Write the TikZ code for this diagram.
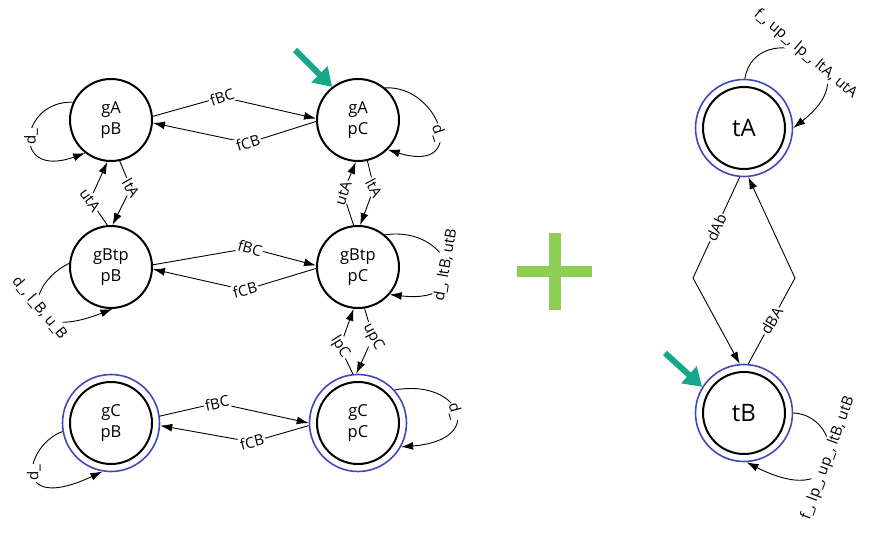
\documentclass[tikz,border=0pt]{standalone}
\usepackage{fontspec}
\setmainfont{Open Sans}
\usepackage{tikz}
\usetikzlibrary{arrows.meta}
\definecolor{ringBlue}{HTML}{4048B8}
\definecolor{initTeal}{HTML}{17A88A}
\definecolor{plusGreen}{HTML}{8DCF55}
\tikzset{>={Latex[length=12pt,width=8pt]}, trans/.style={->,line width=0.9pt},
	elbl/.style={fill=white,inner sep=1.2pt,font=\fontsize{15}{17}\selectfont}}
\tikzstyle{gameState}=[circle,draw=black,line width=2pt,inner sep=0pt,minimum size=82pt,align=center,font=\fontsize{16.5}{21}\selectfont]
\tikzstyle{finalState}=[circle,draw=ringBlue,line width=1.6pt,inner sep=0pt,minimum size=97pt,align=center,font=\fontsize{16.5}{21}\selectfont,
	label={[circle,draw=black,line width=2pt,minimum size=82pt,inner sep=0pt]center:}]
\tikzstyle{initArrow}=[draw=initTeal,line width=6pt,-{Triangle[length=18pt,width=22pt]},initTeal]

\begin{document}
\begin{tikzpicture}[x=1pt,y=-1pt]
	\useasboundingbox (0,0) rectangle (871,537);
	\node at (111,120) [gameState] (gApB) {gA\\pB};
	\node at (358,120) [gameState] (gApC) {gA\\pC};
	\node at (111,267) [gameState] (gBtpB) {gBtp\\pB};
	\node at (358,267) [gameState] (gBtpC) {gBtp\\pC};
	\node at (111,423) [finalState] (gCpB) {gC\\pB};
	\node at (358,423) [finalState] (gCpC) {gC\\pC};
	\node at (744,128) [finalState,font=\fontsize{24}{28}\selectfont] (tA) {tA};
	\node at (744,413) [finalState,font=\fontsize{24}{28}\selectfont] (tB) {tB};
	\coordinate (startA) at (295,50);
	\coordinate (startB) at (665,353);
	\draw[initArrow] (startA) -- (gApC.128);
	\draw[initArrow] (startB) -- (tB.148);
	% first row
	\draw[trans] (gApB.5) -- (222,97) node[elbl,rotate=18]{fBC} -- (gApC.178);
	\draw[trans] (gApC.182) -- (248,143) node[elbl,rotate=17]{fCB} -- (gApB.-4);
	\draw[trans] (gApB.155) .. controls (20,100) and (10,180) .. node[elbl,rotate=90]{d\_} (gApB.232);
	\draw[trans] (gApC.50) .. controls (440,85) and (470,175) .. node[elbl,rotate=-72,pos=0.55]{d\_} (gApC.-45);
	\draw[trans] (gApB.-78) -- (131,188) node[elbl,rotate=-60]{ltA} -- (gBtpB.88);
	\draw[trans] (gBtpB.95) -- (90,200) node[elbl,rotate=-55]{utA} -- (gApB.-95);
	\draw[trans] (gBtpC.96) -- (343,193) node[elbl,rotate=72]{utA} -- (gApC.-93);
	\draw[trans] (gApC.-77) -- (374,188) node[elbl,rotate=-62]{ltA} -- (gBtpC.87);
	% second row
	\draw[trans] (gBtpB.3) -- (250,248) node[elbl,rotate=-15]{fBC} -- (gBtpC.178);
	\draw[trans] (gBtpC.182) -- (245,290) node[elbl,rotate=15]{fCB} -- (gBtpB.-3);
	\draw[trans] (gBtpB.175) .. controls (25,285) and (20,345) .. node[elbl,rotate=-50]{d\_, l\_B, u\_B} (gBtpB.-88);
	\draw[trans] (gBtpC.50) .. controls (450,225) and (480,305) .. node[elbl,rotate=80]{d\_, ltB, utB} (gBtpC.-41);
	\draw[trans] (gBtpC.-81) -- (373,337) node[elbl,rotate=-62]{upC} -- (gCpC.92);
	\draw[trans] (gCpC.96) -- (340,347) node[elbl,rotate=-58]{lpC} -- (gBtpC.-96);
	% third row
	\draw[trans] (gCpB.8) -- (217,403) node[elbl,rotate=12]{fBC} -- (gCpC.180);
	\draw[trans] (gCpC.183) -- (252,442) node[elbl,rotate=14]{fCB} -- (gCpB.-3);
	\draw[trans] (gCpB.190) .. controls (25,445) and (10,515) .. node[elbl,rotate=90]{d\_} (gCpB.-100);
	\draw[trans] (gCpC.42) .. controls (460,378) and (488,440) .. node[elbl,rotate=-75]{d\_} (gCpC.-29);
	% right automaton
	\draw[trans] (tA.-95) -- node[elbl,rotate=65]{dAb} (693,278) -- (tB.95);
	\draw[trans] (tB.85) -- node[elbl,rotate=59]{dBA} (795,278) -- (tA.-85);
	\draw[trans] (tA.89) .. controls (755,15) and (880,60) .. node[elbl,rotate=-40]{f\_, up\_, lp\_, ltA, utA} (tA.0);
	\draw[trans] (tB.0) .. controls (845,415) and (850,515) .. node[elbl,rotate=70]{f\_, lp\_, up\_, ltB, utB} (tB.-87);
	% plus
	\fill[plusGreen] (549,233) rectangle (561,310);
	\fill[plusGreen] (517,266) rectangle (592,277);
\end{tikzpicture}
\end{document}
